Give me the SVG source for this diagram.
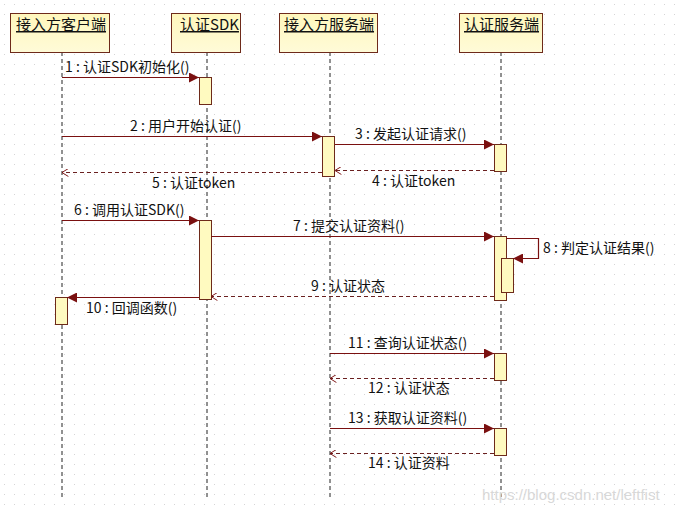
<svg xmlns="http://www.w3.org/2000/svg" width="677" height="511" viewBox="0 0 677 511">
<defs>
<pattern id="grid" x="0" y="0" width="10" height="10" patternUnits="userSpaceOnUse">
<rect x="4" y="4" width="1" height="1" fill="#d4d4d4"/>
</pattern>
<marker id="filled" viewBox="0 0 10 10" refX="10" refY="5" markerWidth="14" markerHeight="10" markerUnits="userSpaceOnUse" orient="auto">
<path d="M0,0 L10,5 L0,10 Z" fill="#7a1010"/>
</marker>
<marker id="open" viewBox="0 0 10 10" refX="9" refY="5" markerWidth="10" markerHeight="8" markerUnits="userSpaceOnUse" orient="auto">
<path d="M1,0 L9,5 L1,10" fill="none" stroke="#7a1010" stroke-width="1.2"/>
</marker>
<linearGradient id="hdr" x1="0" y1="0" x2="0" y2="1">
<stop offset="0" stop-color="#fff7bc"/>
<stop offset="1" stop-color="#fffbd8"/>
</linearGradient>
</defs>
<style>
.hdr{fill:url(#hdr);stroke:#6e2a1a;stroke-width:1}
.life{stroke:#222;stroke-width:1;stroke-dasharray:4,3}
.act{fill:#fffac0;stroke:#6e2a1a;stroke-width:1}
.name{font-family:"Noto Sans CJK SC","Liberation Sans",sans-serif;font-size:15px;fill:#111;text-decoration:underline}
.msg{stroke:#7a1010;stroke-width:1.2;fill:none}
.ret{stroke:#6a2020;stroke-width:1;stroke-dasharray:4,3;fill:none}
.lbl{font-family:"Noto Sans CJK SC","Liberation Sans",sans-serif;font-size:14px;fill:#111}
</style>
<rect width="677" height="511" fill="#ffffff"/>
<rect width="677" height="511" fill="url(#grid)"/>

<g id="client">
<line class="life" x1="62" y1="52" x2="62" y2="500"/>
<rect class="hdr" x="10.5" y="13.5" width="99" height="39"/>
<text class="name" x="16" y="30">接入方客户端</text>
<rect class="act" x="55.5" y="297.5" width="12" height="27"/>
</g>

<g id="sdk">
<line class="life" x1="207" y1="52" x2="207" y2="500"/>
<rect class="hdr" x="171.5" y="13.5" width="69" height="39"/>
<text class="name" x="180" y="30">认证SDK</text>
<rect class="act" x="199.5" y="77.5" width="12" height="27"/>
<rect class="act" x="199.5" y="220.5" width="12" height="79"/>
</g>

<g id="server">
<line class="life" x1="330" y1="52" x2="330" y2="500"/>
<rect class="hdr" x="279.5" y="13.5" width="98" height="39"/>
<text class="name" x="284" y="30">接入方服务端</text>
<rect class="act" x="322.5" y="136.5" width="12" height="40"/>
</g>

<g id="auth">
<line class="life" x1="501" y1="52" x2="501" y2="500"/>
<rect class="hdr" x="459.5" y="13.5" width="83" height="39"/>
<text class="name" x="464" y="30">认证服务端</text>
<rect class="act" x="494.5" y="144.5" width="12" height="27"/>
<rect class="act" x="494.5" y="236.5" width="12" height="64"/>
<rect class="act" x="501.5" y="258.5" width="12" height="34"/>
<rect class="act" x="494.5" y="353.5" width="12" height="27"/>
<rect class="act" x="494.5" y="428.5" width="12" height="27"/>
</g>

<g id="connectors">
<line class="msg" x1="62" y1="77.5" x2="199" y2="77.5" marker-end="url(#filled)"/>
<text class="lbl" x="65" y="72">1 : 认证SDK初始化()</text>

<line class="msg" x1="62" y1="136.5" x2="322" y2="136.5" marker-end="url(#filled)"/>
<text class="lbl" x="130" y="131">2 : 用户开始认证()</text>

<line class="msg" x1="335" y1="144.5" x2="494" y2="144.5" marker-end="url(#filled)"/>
<text class="lbl" x="355" y="139">3 : 发起认证请求()</text>

<line class="ret" x1="494" y1="170.5" x2="335" y2="170.5" marker-end="url(#open)"/>
<text class="lbl" x="372" y="186">4 : 认证token</text>

<line class="ret" x1="322" y1="172.5" x2="62" y2="172.5" marker-end="url(#open)"/>
<text class="lbl" x="152" y="188">5 : 认证token</text>

<line class="msg" x1="62" y1="220.5" x2="199" y2="220.5" marker-end="url(#filled)"/>
<text class="lbl" x="74" y="215">6 : 调用认证SDK()</text>

<line class="msg" x1="211" y1="236.5" x2="494" y2="236.5" marker-end="url(#filled)"/>
<text class="lbl" x="293" y="231">7 : 提交认证资料()</text>

<polyline class="msg" points="506,238.5 538.5,238.5 538.5,258.5 513,258.5" marker-end="url(#filled)"/>
<text class="lbl" x="543" y="253">8 : 判定认证结果()</text>

<line class="ret" x1="494" y1="296.5" x2="211" y2="296.5" marker-end="url(#open)"/>
<text class="lbl" x="311" y="291">9 : 认证状态</text>

<line class="msg" x1="199" y1="297.5" x2="67" y2="297.5" marker-end="url(#filled)"/>
<text class="lbl" x="86" y="313">10 : 回调函数()</text>

<line class="msg" x1="330" y1="353.5" x2="494" y2="353.5" marker-end="url(#filled)"/>
<text class="lbl" x="348" y="348">11 : 查询认证状态()</text>

<line class="ret" x1="494" y1="378.5" x2="330" y2="378.5" marker-end="url(#open)"/>
<text class="lbl" x="368" y="393">12 : 认证状态</text>

<line class="msg" x1="330" y1="428.5" x2="494" y2="428.5" marker-end="url(#filled)"/>
<text class="lbl" x="348" y="423">13 : 获取认证资料()</text>

<line class="ret" x1="494" y1="453.5" x2="330" y2="453.5" marker-end="url(#open)"/>
<text class="lbl" x="368" y="468">14 : 认证资料</text>
</g>

<text x="482" y="500" font-family="Liberation Sans, sans-serif" font-size="15" fill="#d8d8d8">https://blog.csdn.net/leftfist</text>
</svg>
